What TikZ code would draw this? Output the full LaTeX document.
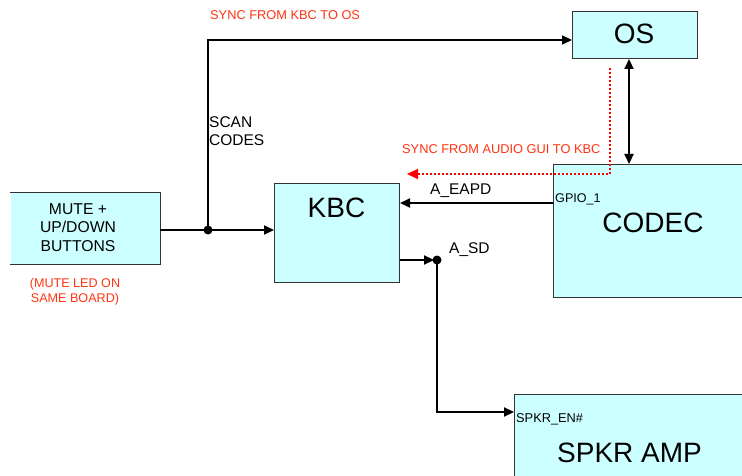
\documentclass[tikz,border=0pt]{standalone}
\usepackage{fontspec}
\setmainfont{Liberation Sans}
\usetikzlibrary{arrows.meta}
\definecolor{boxfill}{HTML}{CCFFFF}
\definecolor{boxline}{HTML}{333333}
\definecolor{redtxt}{HTML}{FF3311}
\definecolor{reddot}{HTML}{FF0000}
\tikzset{
  blk/.style={draw=boxline, line width=1pt, fill=boxfill, inner sep=0pt, anchor=north west},
  bigtxt/.style={font=\fontsize{28}{34}\selectfont, inner sep=0pt, anchor=base},
  midtxt/.style={font=\fontsize{15.5}{18}\selectfont, inner sep=0pt, anchor=base west},
  smalltxt/.style={font=\fontsize{12.6}{15}\selectfont, inner sep=0pt, anchor=base west},
  redlbl/.style={font=\fontsize{12.8}{15}\selectfont, text=redtxt, inner sep=0pt},
  thk/.style={line width=2.2pt},
  thn/.style={line width=1.1pt},
  tip/.tip={Triangle[length=10pt,width=9pt]},
}
\begin{document}
\begin{tikzpicture}[x=1pt,y=-1pt]
\useasboundingbox (0,0) rectangle (742,476);
% boxes
\node[blk, minimum width=125pt, minimum height=47pt] (os) at (572,11) {};
\node[blk, minimum width=125pt, minimum height=99pt] (kbc) at (274,183) {};
\node[blk, minimum width=210pt, minimum height=133pt] (codec) at (553,164) {};
\node[blk, draw=none, minimum width=149pt, minimum height=70pt] (mute) at (10,193) {};
\draw[boxline, line width=1pt] (mute.north west) -- (mute.north east) -- (mute.south east) -- (mute.south west);
\node[blk, minimum width=250pt, minimum height=100pt] (spkr) at (514,394) {};
% box texts
\node[bigtxt] (oslbl) at (634,44) {OS};
\node[bigtxt] (kbclbl) at (336.5,218) {KBC};
\node[bigtxt] (codeclbl) at (653,233) {CODEC};
\node[bigtxt] (spkrlbl) at (629.5,462) {SPKR AMP};
\node[font=\fontsize{15.7}{18.8}\selectfont, inner sep=0pt, align=center, anchor=north] (mutelbl) at (78,203) {MUTE +\\UP/DOWN\\BUTTONS};
% labels
\node[redlbl, anchor=base west] (synckbc) at (210,20) {SYNC FROM KBC TO OS};
\node[redlbl, anchor=base west] (syncgui) at (402,154) {SYNC FROM AUDIO GUI TO KBC};
\node[redlbl, align=center, anchor=north, font=\fontsize{12.6}{15}\selectfont] (ledlbl) at (75,278) {(MUTE LED ON\\ SAME BOARD)};
\node[midtxt, align=left, anchor=north west] (scan) at (209,116) {SCAN\\CODES};
\node[midtxt] (eapd) at (430,195) {A\_EAPD};
\node[midtxt] (asd) at (449,253) {A\_SD};
\node[smalltxt] (gpio) at (555,202) {GPIO\_1};
\node[smalltxt, font=\fontsize{12.8}{15}\selectfont] (spkren) at (516,422) {SPKR\_EN\#};
% coordinates
\coordinate (j) at (208,230);
\coordinate (top) at (208,40);
\coordinate (oc) at (629,0);
\coordinate (rd1) at (610,68);
\coordinate (rd2) at (610,174);
\coordinate (rd3) at (407,174);
\coordinate (ea) at (0,203);
\coordinate (sd) at (437,260);
\coordinate (sd2) at (437,412);
% connectors
\draw[thk,-tip] (mute.east |- j) -- (kbc.west |- j);
\draw[thn] (j) -- (top);
\draw[thk,-tip] ([xshift=-0.55pt]top) -- (os.west |- top);
\fill (j) circle (4.5pt);
\draw[thk,tip-tip] (os.south -| oc) -- (codec.north -| oc);
\draw[reddot, line width=2pt, dotted, -{Triangle[length=11pt,width=10pt]}] (rd1) -- (rd2) -- (rd3);
\draw[thk,-tip] (codec.west |- ea) -- (kbc.east |- ea);
\draw[thk,-tip] (kbc.east |- sd) -- ([xshift=-3pt]sd);
\fill (sd) circle (4.5pt);
\draw[thn] (sd) -- (sd2);
\draw[thk,-tip] ([xshift=-0.55pt]sd2) -- (spkr.west |- sd2);
\end{tikzpicture}
\end{document}
